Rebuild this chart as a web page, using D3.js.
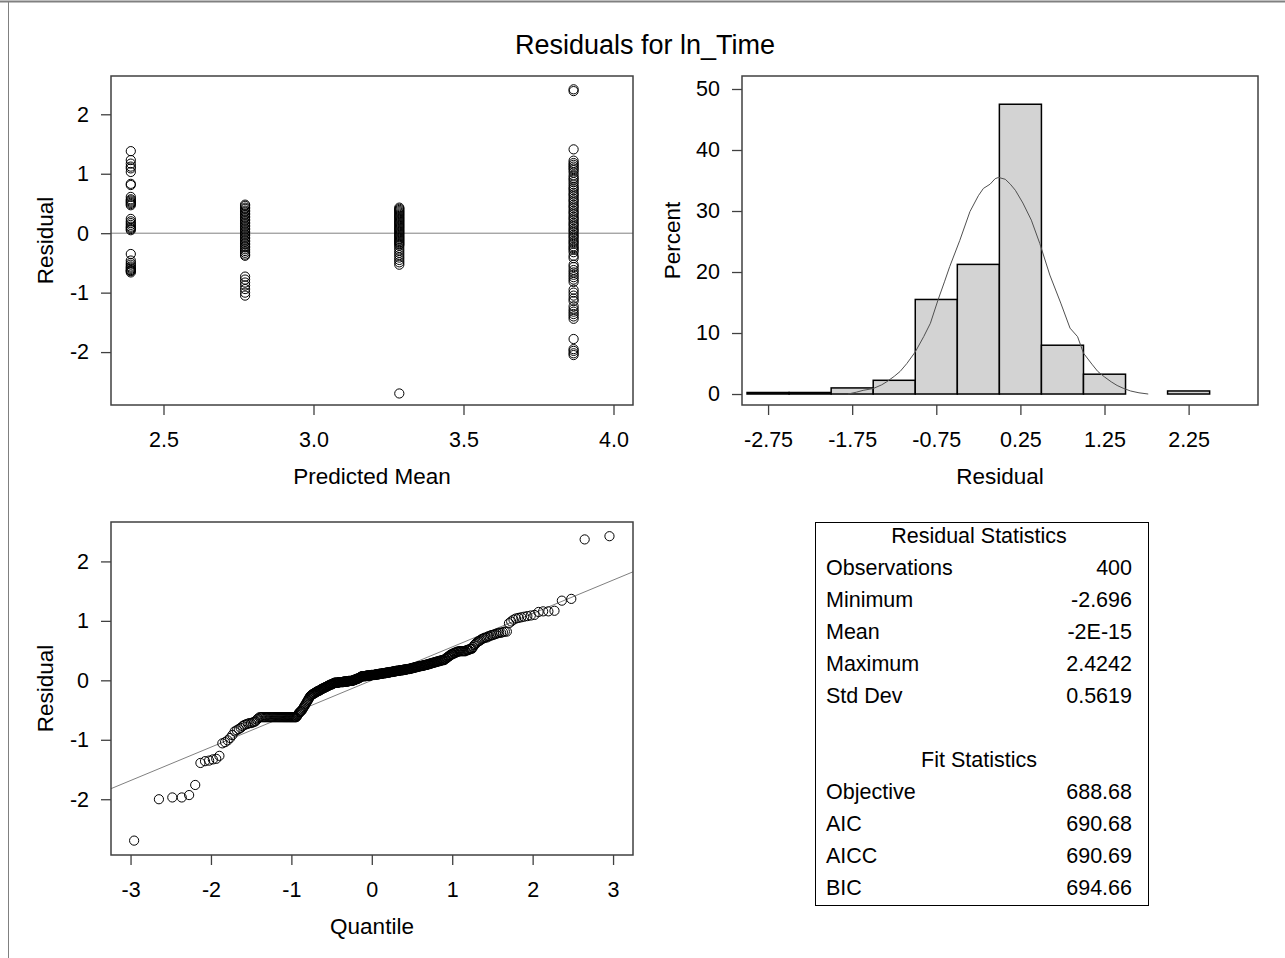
<!DOCTYPE html>
<html><head><meta charset="utf-8">
<script src="https://cdn.jsdelivr.net/npm/d3@7"></script>
<style>
body{margin:0;background:#fff;}
svg text{font-family:"Liberation Sans",Arial,sans-serif;fill:#000;}
</style></head><body>
<svg id="chart" width="1285" height="958"></svg>
<script>
// ---------------- data ----------------
const chartTitle = "Residuals for ln_Time";
const predictedMeans = [2.391, 2.772, 3.286, 3.867];
const residualsGroup1 = [1.38, 1.23, 1.17, 1.12, 1.09, 1.03, 0.83, 0.81, 0.61, 0.57, 0.55, 0.53, 0.51, 0.49, 0.47,
  0.24, 0.20, 0.17, 0.14, 0.11, 0.09, 0.07, 0.05, -0.35, -0.46, -0.50, -0.53, -0.56, -0.58, -0.60, -0.62, -0.63, -0.64, -0.66];
const residualsGroup2 = [0.48, 0.46, 0.43, 0.41, 0.38, 0.36, 0.33, 0.31, 0.28, 0.26, 0.23, 0.21, 0.18, 0.16, 0.13, 0.11,
  0.08, 0.06, 0.03, 0.01, -0.02, -0.04, -0.07, -0.09, -0.12, -0.14, -0.17, -0.19, -0.22, -0.24, -0.27, -0.30, -0.33, -0.36, -0.38,
  -0.73, -0.78, -0.83, -0.88, -0.94, -1.00, -1.05];
const residualsGroup3 = [0.43, 0.41, 0.39, 0.37, 0.35, 0.33, 0.31, 0.29, 0.27, 0.25, 0.23, 0.21, 0.19, 0.17, 0.15, 0.13,
  0.11, 0.09, 0.07, 0.05, 0.03, 0.01, -0.01, -0.03, -0.05, -0.07, -0.09, -0.11, -0.13, -0.15, -0.17, -0.19, -0.21, -0.25,
  -0.29, -0.33, -0.37, -0.41, -0.45, -0.49, -0.53, -2.696];
const residualsGroup4 = [2.42, 2.39, 1.41, 1.22, 1.18, 1.15, 1.12, 1.09, 1.06, 1.02, 0.97, 0.93, 0.90, 0.86, 0.82, 0.78,
  0.75, 0.72, 0.68, 0.65, 0.62, 0.58, 0.55, 0.52, 0.48, 0.45, 0.42, 0.38, 0.35, 0.32, 0.28, 0.25, 0.22, 0.18, 0.15, 0.12,
  0.08, 0.05, 0.02, -0.02, -0.05, -0.08, -0.12, -0.15, -0.18, -0.22, -0.25, -0.28, -0.32, -0.38, -0.42, -0.53, -0.57,
  -0.62, -0.66, -0.70, -0.74, -0.78, -0.82, -0.95, -1.00, -1.05, -1.10, -1.14, -1.23, -1.28, -1.32, -1.36, -1.40, -1.44,
  -1.78, -1.95, -1.98, -2.02, -2.05];

const histBinStart = [-3.0, -2.5, -2.0, -1.5, -1.0, -0.5, 0.0, 0.5, 1.0, 1.5, 2.0];
const histBinWidth = 0.5;
const histPercent = [0.25, 0.25, 1.0, 2.25, 15.5, 21.25, 47.5, 8.0, 3.25, 0, 0.5];

const densityResidual = [-1.80, -1.70, -1.62, -1.50, -1.40, -1.34, -1.25, -1.18, -1.10, -1.00, -0.90, -0.82, -0.73, -0.65,
  -0.59, -0.47, -0.35, -0.25, -0.19, -0.11, -0.05, -0.01, 0.07, 0.13, 0.19, 0.28, 0.38, 0.48, 0.60, 0.73, 0.84, 0.93,
  1.00, 1.10, 1.17, 1.25, 1.33, 1.40, 1.48, 1.56, 1.66, 1.77];
const densityPercent = [0.0, 0.3, 0.6, 0.9, 1.5, 2.0, 2.9, 3.7, 5.0, 6.9, 9.4, 11.6, 15.4, 18.5,
  20.9, 25.2, 29.9, 32.5, 33.7, 34.4, 35.3, 35.5, 35.2, 34.4, 33.4, 31.3, 28.5, 24.7, 19.5, 14.9, 10.8, 9.4,
  6.7, 4.9, 3.7, 2.8, 2.0, 1.4, 0.9, 0.5, 0.2, 0.0];

// sorted residuals as [value, count] runs (400 observations)
const qqResidualRuns = [
  [-2.696,1],[-2.00,1],[-1.97,2],[-1.93,1],[-1.76,1],[-1.39,1],[-1.36,1],[-1.35,1],[-1.33,1],[-1.32,1],[-1.27,1],
  [-1.06,1],[-1.04,1],[-1.01,1],[-0.97,1],[-0.92,1],[-0.86,1],[-0.84,1],[-0.82,1],[-0.80,1],[-0.77,1],[-0.75,1],
  [-0.74,1],[-0.73,1],[-0.72,2],[-0.71,1],[-0.70,1],[-0.69,1],[-0.66,1],[-0.64,1],
  [-0.62,38],
  [-0.60,1],[-0.58,1],[-0.56,1],[-0.54,1],[-0.53,1],[-0.52,1],[-0.51,1],
  [-0.49,1],[-0.47,1],[-0.45,1],[-0.43,1],[-0.41,1],[-0.39,1],
  [-0.37,1],[-0.35,1],[-0.33,1],[-0.31,1],[-0.29,1],[-0.27,1],[-0.26,1],[-0.25,1],
  [-0.24,1],[-0.23,2],[-0.22,1],[-0.21,2],[-0.20,1],[-0.19,2],[-0.18,2],[-0.17,2],[-0.16,1],
  [-0.15,2],[-0.14,2],[-0.13,2],[-0.12,2],[-0.11,2],[-0.10,2],[-0.09,2],[-0.08,2],[-0.07,3],[-0.06,2],[-0.05,2],
  [-0.04,8],[-0.03,9],[-0.02,9],[-0.01,8],
  [0.00,3],[0.01,3],[0.02,3],[0.03,3],[0.04,2],[0.05,2],[0.06,2],
  [0.07,9],[0.08,9],[0.09,9],
  [0.10,7],[0.11,7],[0.12,7],[0.13,7],[0.14,6],
  [0.15,6],[0.16,7],[0.17,7],[0.18,6],[0.19,6],
  [0.20,4],[0.21,4],[0.22,4],[0.23,4],[0.24,5],[0.25,4],[0.26,4],
  [0.27,3],[0.28,3],[0.29,3],[0.30,3],[0.31,3],[0.32,3],[0.33,3],[0.34,4],
  [0.36,2],[0.38,2],[0.40,2],[0.42,2],[0.44,3],[0.46,3],[0.48,3],
  [0.49,8],
  [0.51,3],[0.53,3],
  [0.56,1],[0.59,1],[0.61,1],[0.63,1],[0.65,1],[0.66,1],[0.67,1],
  [0.69,1],[0.70,1],[0.71,1],[0.72,2],[0.74,2],[0.76,2],[0.77,1],[0.78,1],
  [0.79,1],[0.80,2],[0.81,1],[0.82,2],
  [0.96,1],[0.99,1],[1.02,1],[1.04,1],[1.05,1],[1.06,1],[1.07,1],[1.08,1],[1.09,1],[1.10,1],
  [1.15,1],[1.16,2],[1.17,1],[1.34,1],[1.37,1],[2.37,1],[2.4242,1]
];
const residualMean = 0;
const residualStdDev = 0.5619;

const scatterXTicks = [2.5, 3.0, 3.5, 4.0];
const residualTicks = [-2, -1, 0, 1, 2];
const histXTicks = [-2.75, -1.75, -0.75, 0.25, 1.25, 2.25];
const histYTicks = [0, 10, 20, 30, 40, 50];
const qqXTicks = [-3, -2, -1, 0, 1, 2, 3];

const residualStatsTitle = "Residual Statistics";
const residualStatLabels = ["Observations", "Minimum", "Mean", "Maximum", "Std Dev"];
const residualStatValues = ["400", "-2.696", "-2E-15", "2.4242", "0.5619"];
const fitStatsTitle = "Fit Statistics";
const fitStatLabels = ["Objective", "AIC", "AICC", "BIC"];
const fitStatValues = ["688.68", "690.68", "690.69", "694.66"];

// ---------------- helpers ----------------
function invNorm(p){
  const a=[-3.969683028665376e+01,2.209460984245205e+02,-2.759285104469687e+02,1.383577518672690e+02,-3.066479806614716e+01,2.506628277459239e+00];
  const b=[-5.447609879822406e+01,1.615858368580409e+02,-1.556989798598866e+02,6.680131188771972e+01,-1.328068155288572e+01];
  const c=[-7.784894002430293e-03,-3.223964580411365e-01,-2.400758277161838e+00,-2.549732539343734e+00,4.374664141464968e+00,2.938163982698783e+00];
  const d=[7.784695709041462e-03,3.224671290700398e-01,2.445134137142996e+00,3.754408661907416e+00];
  const pl=0.02425, ph=1-pl; let q,r;
  if(p<pl){q=Math.sqrt(-2*Math.log(p));return (((((c[0]*q+c[1])*q+c[2])*q+c[3])*q+c[4])*q+c[5])/((((d[0]*q+d[1])*q+d[2])*q+d[3])*q+1);}
  if(p<=ph){q=p-0.5;r=q*q;return (((((a[0]*r+a[1])*r+a[2])*r+a[3])*r+a[4])*r+a[5])*q/(((((b[0]*r+b[1])*r+b[2])*r+b[3])*r+b[4])*r+1);}
  q=Math.sqrt(-2*Math.log(1-p));return -(((((c[0]*q+c[1])*q+c[2])*q+c[3])*q+c[4])*q+c[5])/((((d[0]*q+d[1])*q+d[2])*q+d[3])*q+1);
}
const fmtPlain = d => String(d);
const fmt1 = d => d.toFixed(1);
const fmt2 = d => d.toFixed(2);

const FS = 21.5;      // tick label size
const LFS = 22.5;     // axis label size
const TFS = 21.5;     // table text size
const R = 4.6;        // marker radius
const svg = d3.select("#chart");
svg.append("rect").attr("width",1285).attr("height",958).attr("fill","#fff");
// outer border
svg.append("line").attr("x1",0).attr("x2",1285).attr("y1",1.5).attr("y2",1.5).attr("stroke","#808080").attr("stroke-width",2);
svg.append("line").attr("x1",8.5).attr("x2",8.5).attr("y1",1).attr("y2",958).attr("stroke","#808080").attr("stroke-width",1);

svg.append("text").attr("x",645).attr("y",54).attr("text-anchor","middle").attr("font-size",27).text(chartTitle);

function panel(box, xDomain, yDomain, xTicks, yTicks, xFmt, yFmt, xLabel, yLabel, yLabelX){
  const x = d3.scaleLinear().domain(xDomain).range([box.l, box.r]);
  const y = d3.scaleLinear().domain(yDomain).range([box.b, box.t]);
  const g = svg.append("g");
  const ax = g.append("g").attr("transform",`translate(0,${box.b})`)
    .call(d3.axisBottom(x).tickValues(xTicks).tickFormat(xFmt).tickSize(10).tickPadding(17).tickSizeOuter(0));
  const ay = g.append("g").attr("transform",`translate(${box.l},0)`)
    .call(d3.axisLeft(y).tickValues(yTicks).tickFormat(yFmt).tickSize(10).tickPadding(12).tickSizeOuter(0));
  [ax, ay].forEach(a => {
    a.select(".domain").remove();
    a.selectAll("line").attr("stroke","#404040").attr("stroke-width",1.3);
    a.selectAll("text").attr("font-size",FS).attr("font-family","Liberation Sans, Arial, sans-serif").attr("fill","#000");
  });
  g.append("text").attr("x",(box.l+box.r)/2).attr("y",box.b+79).attr("text-anchor","middle").attr("font-size",LFS).text(xLabel);
  g.append("text").attr("transform",`translate(${yLabelX},${(box.t+box.b)/2}) rotate(-90)`).attr("text-anchor","middle").attr("font-size",LFS).text(yLabel);
  const id = "clip"+Math.round(box.l)+"_"+Math.round(box.t);
  svg.append("clipPath").attr("id",id).append("rect").attr("x",box.l).attr("y",box.t).attr("width",box.r-box.l).attr("height",box.b-box.t);
  const plot = g.append("g").attr("clip-path",`url(#${id})`);
  const frame = () => g.append("rect").attr("x",box.l).attr("y",box.t).attr("width",box.r-box.l).attr("height",box.b-box.t)
    .attr("fill","none").attr("stroke","#404040").attr("stroke-width",1.5);
  return {x, y, plot, frame};
}

// ---- panel 1: residual vs predicted mean ----
{
  const p = panel({l:111,r:633,t:76,b:405}, [2.325,4.065], [-2.89,2.644], scatterXTicks, residualTicks, fmt1, fmtPlain, "Predicted Mean", "Residual", 53);
  p.plot.append("line").attr("x1",p.x.range()[0]).attr("x2",p.x.range()[1]).attr("y1",p.y(0)).attr("y2",p.y(0))
    .attr("stroke","#808080").attr("stroke-width",1);
  const groups = [residualsGroup1, residualsGroup2, residualsGroup3, residualsGroup4];
  const pts = [];
  groups.forEach((arr,i)=>arr.forEach(v=>pts.push({x:predictedMeans[i], y:v})));
  p.plot.selectAll("circle").data(pts).join("circle")
    .attr("cx",d=>p.x(d.x)).attr("cy",d=>p.y(d.y)).attr("r",R)
    .attr("fill","none").attr("stroke","#000").attr("stroke-width",1);
  p.frame();
}

// ---- panel 2: histogram ----
{
  const p = panel({l:742,r:1258,t:76,b:405}, [-3.06,3.075], [-1.8,52.13], histXTicks, histYTicks, fmt2, fmtPlain, "Residual", "Percent", 680);
  const bars = histBinStart.map((s,i)=>({s, v:histPercent[i]})).filter(d=>d.v>0);
  p.plot.selectAll("rect.bar").data(bars).join("rect").attr("class","bar")
    .attr("x",d=>p.x(d.s)).attr("width",d=>p.x(d.s+histBinWidth)-p.x(d.s))
    .attr("y",d=>p.y(d.v)).attr("height",d=>p.y(0)-p.y(d.v))
    .attr("fill","#d3d3d3").attr("stroke","#000").attr("stroke-width",1.5);
  const line = d3.line().x(d=>p.x(d[0])).y(d=>p.y(d[1]));
  p.plot.append("path").datum(densityResidual.map((r,i)=>[r,densityPercent[i]]))
    .attr("d",line).attr("fill","none").attr("stroke","#505050").attr("stroke-width",1);
  p.frame();
}

// ---- panel 3: QQ plot ----
{
  const p = panel({l:111,r:633,t:522,b:855}, [-3.243,3.248], [-2.938,2.663], qqXTicks, residualTicks, fmtPlain, fmtPlain, "Quantile", "Residual", 53);
  const sorted = [];
  qqResidualRuns.forEach(([v,c])=>{ for(let k=0;k<c;k++) sorted.push(v); });
  const n = sorted.length;
  const pts = sorted.map((v,i)=>({q: invNorm((i+1-0.375)/(n+0.25)), r: v}));
  const dom = p.x.domain();
  p.plot.append("line").attr("x1",p.x(dom[0])).attr("x2",p.x(dom[1]))
    .attr("y1",p.y(residualMean+residualStdDev*dom[0])).attr("y2",p.y(residualMean+residualStdDev*dom[1]))
    .attr("stroke","#808080").attr("stroke-width",1);
  p.plot.selectAll("circle").data(pts).join("circle")
    .attr("cx",d=>p.x(d.q)).attr("cy",d=>p.y(d.r)).attr("r",R)
    .attr("fill","none").attr("stroke","#000").attr("stroke-width",1);
  p.frame();
}

// ---- stats table ----
{
  const box = {l:815, r:1148, t:522, b:905};
  svg.append("rect").attr("x",box.l+0.5).attr("y",box.t+0.5).attr("width",box.r-box.l).attr("height",box.b-box.t)
    .attr("fill","none").attr("stroke","#000").attr("stroke-width",1);
  const cx = 979, lx = 826, rx = 1132, step = 32, fs = TFS;
  let yb = 543;
  svg.append("text").attr("x",cx).attr("y",yb).attr("text-anchor","middle").attr("font-size",fs).text(residualStatsTitle);
  residualStatLabels.forEach((l,i)=>{
    const yy = yb + step*(i+1);
    svg.append("text").attr("x",lx).attr("y",yy).attr("font-size",fs).text(l);
    svg.append("text").attr("x",rx).attr("y",yy).attr("text-anchor","end").attr("font-size",fs).text(residualStatValues[i]);
  });
  yb = 543 + step*7;
  svg.append("text").attr("x",cx).attr("y",yb).attr("text-anchor","middle").attr("font-size",fs).text(fitStatsTitle);
  fitStatLabels.forEach((l,i)=>{
    const yy = yb + step*(i+1);
    svg.append("text").attr("x",lx).attr("y",yy).attr("font-size",fs).text(l);
    svg.append("text").attr("x",rx).attr("y",yy).attr("text-anchor","end").attr("font-size",fs).text(fitStatValues[i]);
  });
}
</script>
</body></html>
